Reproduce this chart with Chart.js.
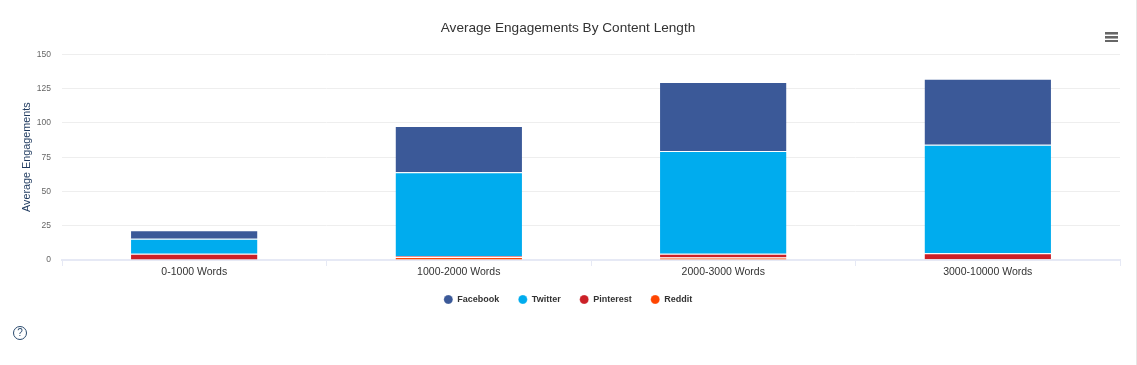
<!DOCTYPE html>
<html><head><meta charset="utf-8">
<style>
html,body{margin:0;padding:0;background:#fff;overflow:hidden}
#wrap{position:relative;width:1137px;height:365px}
canvas{position:absolute;left:0;top:0}
#edge{position:absolute;left:1136px;top:0;width:1px;height:365px;background:#e6e6e6}
#menu{position:absolute;left:1105px;top:32px;width:13px;height:10px;
 background:linear-gradient(#666 0 2px,#aaa 2px 3px,#fff 3px 4px,#666 4px 6px,#aaa 6px 7px,#fff 7px 8px,#666 8px 10px)}
#help{position:absolute;left:13px;top:326px;width:12px;height:12px;border:1.2px solid #2a4a6e;border-radius:50%;
 font:10px/12px "Liberation Sans",Arial,sans-serif;color:#2a4a6e;text-align:center}
</style></head><body>
<div id="wrap"><canvas id="c" width="1137" height="365"></canvas><div id="edge"></div><div id="menu"></div><div id="help">?</div></div>
<script src="https://cdn.jsdelivr.net/npm/chart.js@4/dist/chart.umd.min.js"></script>
<script>
const categories=["0-1000 Words","1000-2000 Words","2000-3000 Words","3000-10000 Words"];
const reddit=[0,2.2,1.8,0.5];
const pinterest=[4.5,0.8,2.7,4.5];
const twitter=[11,61,75,79];
const facebook=[6.2,33.7,50.4,48.2];
const yTicks=[0,25,50,75,100,125,150];
const font="'Liberation Sans',Arial,sans-serif";
function ds(label,data,color){return{label,data,backgroundColor:color,borderColor:'#ffffff',borderWidth:{top:1},borderSkipped:false,barPercentage:0.478,categoryPercentage:1,stack:'s',pointStyle:'circle'};}
new Chart(document.getElementById('c'),{
 type:'bar',
 data:{labels:categories,datasets:[
  ds('Reddit',reddit,'#ff4500'),
  ds('Pinterest',pinterest,'#cb2027'),
  ds('Twitter',twitter,'#00acee'),
  ds('Facebook',facebook,'#3b5998')]},
 options:{responsive:false,animation:false,
  layout:{padding:{left:16,right:17,top:0,bottom:51}},
  plugins:{
   tooltip:{enabled:false},
   title:{display:true,text:'Average Engagements By Content Length',color:'#333333',font:{family:font,size:13.6,weight:'normal'},padding:{top:20,bottom:18}},
   legend:{position:'bottom',reverse:true,labels:{usePointStyle:true,pointStyle:'circle',boxHeight:6.4,padding:19,color:'#333333',font:{family:font,size:9,weight:'bold'}}}
  },
  scales:{
   x:{stacked:true,offset:true,
    afterFit(s){s.height=16;},
    grid:{display:true,drawOnChartArea:false,drawTicks:true,tickLength:6,color:'#e6e9f5',offset:true},
    border:{display:true,color:'#e6e9f5',width:2},
    ticks:{color:'#333333',font:{family:font,size:10.5},padding:0,maxRotation:0}},
   y:{stacked:true,min:0,max:150,
    afterBuildTicks(s){s.ticks=yTicks.map(v=>({value:v}));},
    afterFit(s){s.width=46;},
    grid:{color:'#eeeeee',drawTicks:false,lineWidth:1},
    border:{display:false},
    title:{display:true,text:'Average Engagements',color:'#1f3a5f',font:{family:font,size:10.8,weight:'normal'},padding:{top:5,bottom:0}},
    ticks:{color:'#666666',font:{family:font,size:8.5},padding:11}}
  }
 }
});
</script></body></html>
